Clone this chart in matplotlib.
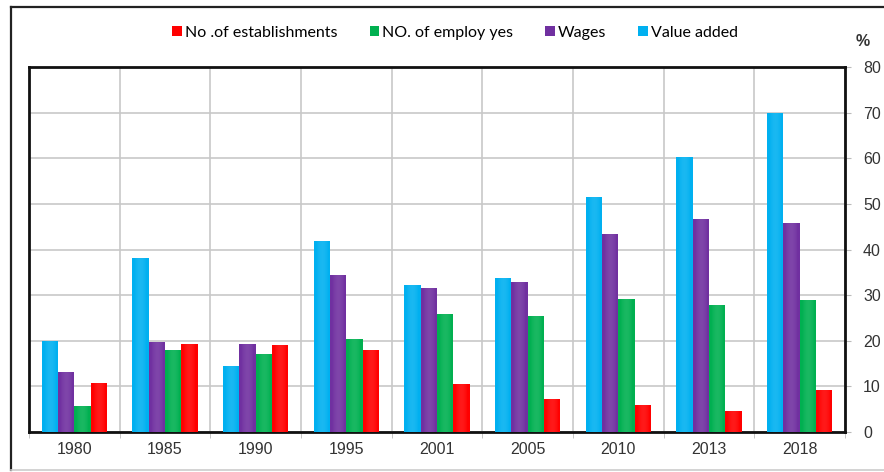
import numpy as np
import matplotlib.pyplot as plt
from matplotlib.patches import Rectangle
from matplotlib.lines import Line2D

# data
years = ['1980', '1985', '1990', '1995', '2001', '2005', '2010', '2013', '2018']
value_added = [20, 38.2, 14.5, 41.8, 32.3, 33.8, 51.5, 60.2, 70]
wages = [13.2, 19.8, 19.4, 34.5, 31.5, 33, 43.5, 46.7, 45.8]
employees = [5.8, 17.9, 17.2, 20.5, 25.8, 25.4, 29.2, 27.8, 28.9]
establishments = [10.8, 19.4, 19.1, 17.9, 10.6, 7.2, 6.0, 4.6, 9.2]

series = [
    ('Value added', value_added, '#00B0F0'),
    ('Wages', wages, '#7030A0'),
    ('NO. of employ yes', employees, '#00B050'),
    ('No .of establishments', establishments, '#FF0000'),
]

fig = plt.figure(figsize=(8.84, 4.72), dpi=100)
ax = fig.add_axes([0.0328, 0.0847, 0.923, 0.773])

# outer frame of the picture (dark left/top, light bottom)
fig.add_artist(Line2D([0.0125, 0.0125], [0.004, 0.985], transform=fig.transFigure,
                      color='#222222', linewidth=1.6))
fig.add_artist(Line2D([0.0125, 1.0], [0.985, 0.985], transform=fig.transFigure,
                      color='#222222', linewidth=1.6))
fig.add_artist(Line2D([0.0125, 1.0], [0.004, 0.004], transform=fig.transFigure,
                      color='#cccccc', linewidth=1.2))

x = np.arange(len(years))
w = 0.18
handles = []
for i, (name, vals, col) in enumerate(series):
    off = (i - 1.5) * w
    bars = ax.bar(x + off, vals, w, color=col, zorder=3, label=name)
    handles.append(bars)
    # soft cylinder highlight
    for b in bars:
        bx, by = b.get_x(), b.get_y()
        bw, bh = b.get_width(), b.get_height()
        t = np.linspace(0, 1, 32)
        rgba = np.zeros((1, 32, 4))
        rgba[..., :3] = 1.0
        rgba[0, :, 3] = np.clip(0.35 * np.sin(t * np.pi) - 0.12, 0, 1) * 0.45
        im = ax.imshow(rgba, extent=[bx, bx + bw, by, by + bh],
                       aspect='auto', zorder=4)
        im.set_clip_path(b)

ax.set_xlim(-0.5, len(years) - 0.5)
ax.set_ylim(0, 80)

ax.set_xticks(x)
ax.set_xticklabels(years, fontsize=11.5, color='#333333', fontfamily='Liberation Sans')
ax.set_xticks(np.arange(-0.5, len(years)), minor=True)
ax.tick_params(axis='x', which='major', length=0, pad=7)
ax.tick_params(axis='x', which='minor', length=4, color='#bbbbbb')
ax.grid(axis='x', which='minor', color='#c8c8c8', linewidth=1.2, zorder=0)

ax.yaxis.tick_right()
ax.set_yticks(np.arange(0, 81, 10))
ax.tick_params(axis='y', labelsize=11.5, labelcolor='#333333', length=4,
               color='#bbbbbb', pad=9)
for t in ax.get_yticklabels():
    t.set_fontfamily('Liberation Sans')
ax.grid(axis='y', color='#c8c8c8', linewidth=1.2, zorder=0)

for s in ax.spines.values():
    s.set_linewidth(2)
    s.set_color('#111111')

fig.text(0.976, 0.912, '%', fontsize=11.5, fontweight='bold', color='#333333',
         ha='center', va='center', fontfamily='Liberation Sans')

leg_order = [handles[3], handles[2], handles[1], handles[0]]
fig.legend(leg_order, [h.get_label() for h in leg_order], loc='center',
           bbox_to_anchor=(0.515, 0.93), ncol=4, frameon=False,
           handlelength=0.6, handleheight=0.6, handletextpad=0.2, columnspacing=2.0,
           prop={'family': 'Lato', 'size': 11.5})

fig.savefig('out.png', dpi=100)
